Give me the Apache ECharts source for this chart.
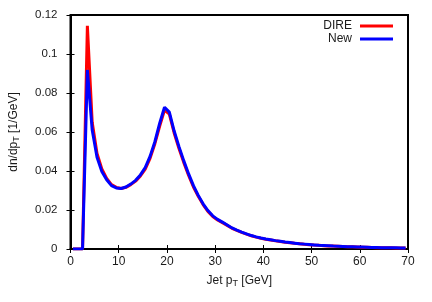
<!DOCTYPE html>
<html>
<head>
<meta charset="utf-8">
<script src="https://cdn.jsdelivr.net/npm/echarts@6/dist/echarts.min.js"></script>
<style>html,body{margin:0;padding:0;background:#fff}#c{width:432px;height:302px}</style>
</head>
<body>
<div id="c"></div>
<script>
var ptCenters = [
  0.5, 1.5, 2.5, 3.5, 4.5, 5.5, 6.5, 7.5, 8.5, 9.5,
  10.5, 11.5, 12.5, 13.5, 14.5, 15.5, 16.5, 17.5, 18.5, 19.5,
  20.5, 21.5, 22.5, 23.5, 24.5, 25.5, 26.5, 27.5, 28.5, 29.5,
  30.5, 31.5, 32.5, 33.5, 34.5, 35.5, 36.5, 37.5, 38.5, 39.5,
  40.5, 41.5, 42.5, 43.5, 44.5, 45.5, 46.5, 47.5, 48.5, 49.5,
  50.5, 51.5, 52.5, 53.5, 54.5, 55.5, 56.5, 57.5, 58.5, 59.5,
  60.5, 61.5, 62.5, 63.5, 64.5, 65.5, 66.5, 67.5, 68.5, 69.5
];
var direValues = [
  0, 0, 0, 0.1145, 0.065, 0.049, 0.041, 0.0362, 0.033, 0.0316,
  0.031, 0.0316, 0.033, 0.0348, 0.0375, 0.041, 0.0465, 0.054, 0.063, 0.0712,
  0.0692, 0.0595, 0.0515, 0.0443, 0.0377, 0.0318, 0.027, 0.0228, 0.0193, 0.0167,
  0.0149, 0.0135, 0.0121, 0.0106, 0.0095, 0.0085, 0.0076, 0.0068, 0.0061, 0.0055,
  0.0050, 0.0046, 0.0042, 0.0039, 0.0035, 0.0032, 0.0029, 0.0027, 0.0024, 0.0022,
  0.0020, 0.0019, 0.0017, 0.0016, 0.0015, 0.0014, 0.0013, 0.0012, 0.0011, 0.0010,
  0.0009, 0.0009, 0.0008, 0.0007, 0.0007, 0.0006, 0.0006, 0.0005, 0.0005, 0.0005
];
var newValues = [
  0, 0, 0, 0.0918, 0.061, 0.047, 0.0398, 0.0355, 0.0325, 0.0313,
  0.031, 0.0318, 0.0333, 0.0352, 0.038, 0.0418, 0.0475, 0.055, 0.0645, 0.0727,
  0.0702, 0.0605, 0.0525, 0.0452, 0.0385, 0.0325, 0.0275, 0.0232, 0.0197, 0.0170,
  0.0152, 0.0138, 0.0123, 0.0108, 0.0097, 0.0087, 0.0078, 0.0069, 0.0062, 0.0056,
  0.0051, 0.0047, 0.0043, 0.0040, 0.0036, 0.0033, 0.0030, 0.0027, 0.0025, 0.0023,
  0.0021, 0.0019, 0.0018, 0.0017, 0.0015, 0.0014, 0.0013, 0.0012, 0.0011, 0.0010,
  0.0010, 0.0009, 0.0008, 0.0008, 0.0007, 0.0007, 0.0006, 0.0006, 0.0005, 0.0005
];
var seriesNames = ['DIRE', 'New'];
var xTicks = [0, 10, 20, 30, 40, 50, 60, 70];
var yTicks = [0, 0.02, 0.04, 0.06, 0.08, 0.1, 0.12];

function pairs(xs, ys) { return xs.map(function (x, i) { return [x, ys[i]]; }); }

var font = 'Liberation Sans, Arial, sans-serif';
var txt = '#1a1a1a';
var chart = echarts.init(document.getElementById('c'), null, {renderer: 'canvas'});
var tickStyle = {show: true, inside: true, length: 4, lineStyle: {color: '#000', width: 1}};
chart.setOption({
  animation: false,
  backgroundColor: '#fff',
  grid: {left: 69, right: 24, top: 15, bottom: 53, show: true, borderColor: '#000', borderWidth: 2, backgroundColor: 'transparent'},
  legend: {
    data: seriesNames, orient: 'vertical', right: 39, top: 20, align: 'right', padding: 0,
    itemWidth: 33, itemHeight: 3, itemGap: 1, icon: 'rect',
    textStyle: {fontFamily: font, fontSize: 12, color: txt, padding: [0, 3, 0, 0]}
  },
  xAxis: [{
    type: 'value', min: xTicks[0], max: xTicks[xTicks.length - 1], interval: 10,
    axisLine: {show: true, lineStyle: {color: '#000', width: 2}},
    axisTick: tickStyle, splitLine: {show: false},
    axisLabel: {fontFamily: font, fontSize: 12, color: txt, margin: 7},
    name: '{a|Jet p}{s|T}{a| [GeV]}', nameLocation: 'middle', nameGap: 24,
    nameTextStyle: {rich: {
      a: {fontFamily: font, fontSize: 12, color: txt},
      s: {fontFamily: font, fontSize: 9, color: txt, padding: [6, 0, 0, 0]}
    }}
  }, {
    type: 'value', position: 'top', min: xTicks[0], max: xTicks[xTicks.length - 1], interval: 10,
    axisLine: {show: false}, axisTick: tickStyle, axisLabel: {show: false}, splitLine: {show: false}
  }],
  yAxis: [{
    type: 'value', min: yTicks[0], max: yTicks[yTicks.length - 1], interval: 0.02,
    axisLine: {show: true, lineStyle: {color: '#000', width: 2}},
    axisTick: tickStyle, splitLine: {show: false},
    axisLabel: {fontFamily: font, fontSize: 11.5, color: txt, margin: 13},
    name: '{a|dn/dp}{s|T}{a| [1/GeV]}', nameLocation: 'middle', nameGap: 49, nameRotate: 90,
    nameTextStyle: {rich: {
      a: {fontFamily: font, fontSize: 12, color: txt},
      s: {fontFamily: font, fontSize: 9, color: txt, padding: [6, 0, 0, 0]}
    }}
  }, {
    type: 'value', position: 'right', min: yTicks[0], max: yTicks[yTicks.length - 1], interval: 0.02,
    axisLine: {show: false}, axisTick: tickStyle, axisLabel: {show: false}, splitLine: {show: false}
  }],
  series: [{
    name: seriesNames[0], type: 'line', data: pairs(ptCenters, direValues),
    showSymbol: false, symbol: 'none', color: '#ff0000',
    lineStyle: {color: '#ff0000', width: 3}, z: 2
  }, {
    name: seriesNames[1], type: 'line', data: pairs(ptCenters, newValues),
    showSymbol: false, symbol: 'none', color: '#0000ff',
    lineStyle: {color: '#0000ff', width: 3}, z: 3
  }]
});
</script>
</body>
</html>
